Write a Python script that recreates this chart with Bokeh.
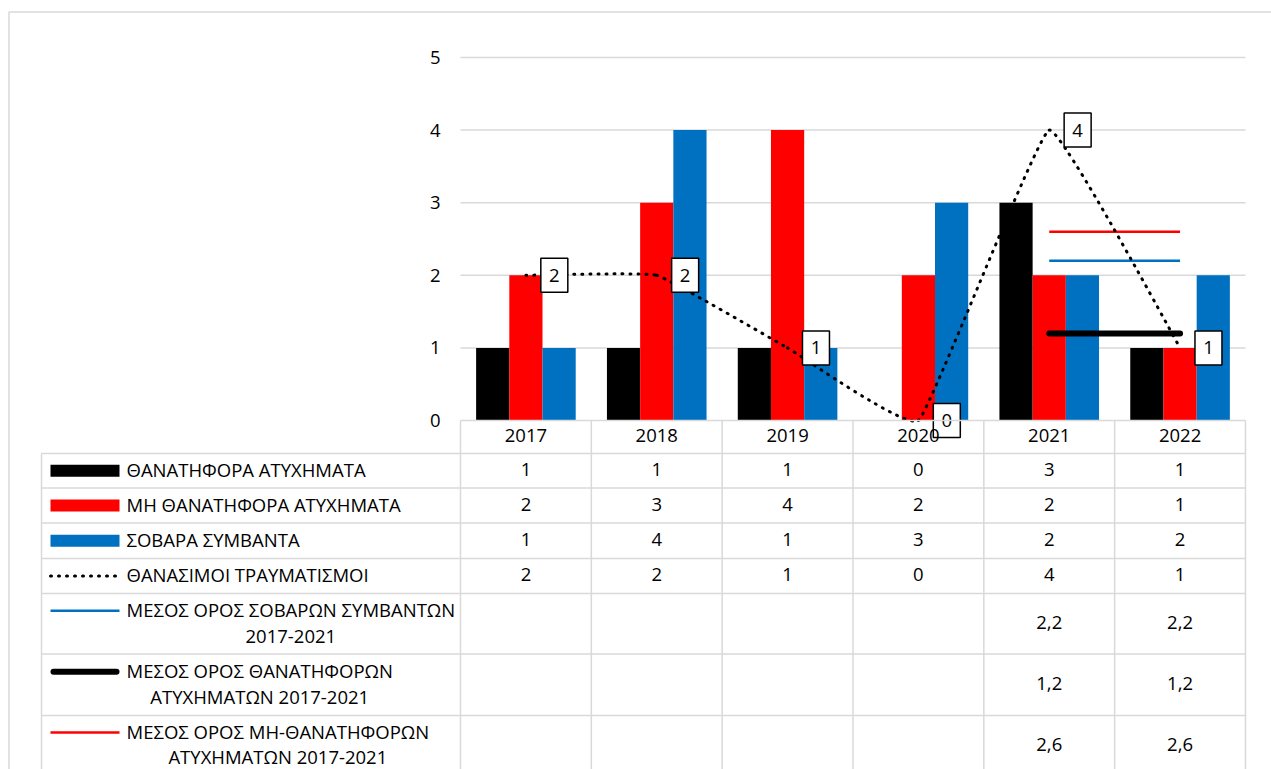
from bokeh.plotting import figure
from bokeh.models import Range1d, LinearAxis, FixedTicker
from bokeh.core.properties import value
from bokeh.embed import file_html
from bokeh.resources import INLINE

# ---- data -----------------------------------------------------------------
years = ["2017", "2018", "2019", "2020", "2021", "2022"]
fatal_accidents = [1, 1, 1, 0, 3, 1]
nonfatal_accidents = [2, 3, 4, 2, 2, 1]
serious_incidents = [1, 4, 1, 3, 2, 2]
fatal_injuries = [2, 2, 1, 0, 4, 1]
avg_serious = [None, None, None, None, 2.2, 2.2]
avg_fatal = [None, None, None, None, 1.2, 1.2]
avg_nonfatal = [None, None, None, None, 2.6, 2.6]
y_ticks = [0, 1, 2, 3, 4, 5]

series_names = [
    "ΘΑΝΑΤΗΦΟΡΑ ΑΤΥΧΗΜΑΤΑ",
    "ΜΗ ΘΑΝΑΤΗΦΟΡΑ ΑΤΥΧΗΜΑΤΑ",
    "ΣΟΒΑΡΑ ΣΥΜΒΑΝΤΑ",
    "ΘΑΝΑΣΙΜΟΙ ΤΡΑΥΜΑΤΙΣΜΟΙ",
    "ΜΕΣΟΣ ΟΡΟΣ ΣΟΒΑΡΩΝ ΣΥΜΒΑΝΤΩΝ\n2017-2021",
    "ΜΕΣΟΣ ΟΡΟΣ ΘΑΝΑΤΗΦΟΡΩΝ\nΑΤΥΧΗΜΑΤΩΝ 2017-2021",
    "ΜΕΣΟΣ ΟΡΟΣ ΜΗ-ΘΑΝΑΤΗΦΟΡΩΝ\nΑΤΥΧΗΜΑΤΩΝ 2017-2021",
]

BLACK, RED, BLUE = "#000000", "#ff0000", "#0070c0"
GRID = "#d9d9d9"
FONT = value("Open Sans")
FSIZE = "18.5px"
SMOOTH = 0.045  # handle length of the smoothed line, relative to neighbour spacing

# ---- page geometry (pixels) -------------------------------------------------
W, H = 1271, 769
PLOT_L = 460.0        # left edge of the first category
COL_W = 130.83        # width of one category column
ZERO_Y = 420.0        # pixel row of value 0
UNIT_H = 72.6         # pixels per unit of value


def dx(px):
    return (px - PLOT_L) / COL_W


def dy(py):
    return (ZERO_Y - py) / UNIT_H


n = len(years)
centers = [i + 0.5 for i in range(n)]

p = figure(
    width=W, height=H,
    x_range=Range1d(dx(0), dx(W)), y_range=Range1d(dy(H), dy(0)),
    x_axis_location=None, y_axis_location=None,
    toolbar_location=None, output_backend="svg",
    min_border=0, outline_line_color=None,
    background_fill_color="white", border_fill_color="white",
)
p.grid.visible = False

# outer frame of the chart area
p.line([dx(8.5), dx(8.5), dx(W + 5)], [dy(H + 5), dy(11.5), dy(11.5)],
       line_color=GRID, line_width=1.5)

# horizontal gridlines
for t in y_ticks[1:]:
    p.line([0, n], [t, t], line_color=GRID, line_width=1.5)

# ---- bars ---------------------------------------------------------------
BAR_W = 33.2 / COL_W
for vals, col, off in [(fatal_accidents, BLACK, -1),
                       (nonfatal_accidents, RED, 0),
                       (serious_incidents, BLUE, 1)]:
    p.vbar(x=[c + off * BAR_W for c in centers], top=vals, bottom=0,
           width=BAR_W, fill_color=col, line_color=None)

# ---- averages (drawn where defined) ----------------------------------------
def defined(series):
    xs = [c for c, v in zip(centers, series) if v is not None]
    ys = [v for v in series if v is not None]
    return xs, ys

xs, ys = defined(avg_nonfatal)
p.line(xs, ys, line_color=RED, line_width=2.5)
xs, ys = defined(avg_serious)
p.line(xs, ys, line_color=BLUE, line_width=2.5)
xs, ys = defined(avg_fatal)
p.line(xs, ys, line_color=BLACK, line_width=6, line_cap="round")

# ---- smoothed dotted line for fatal injuries -------------------------------
pts = list(zip(centers, fatal_injuries))
x0s, y0s, x1s, y1s, cx0, cy0, cx1, cy1 = ([] for _ in range(8))
for i in range(n - 1):
    pa = pts[max(i - 1, 0)]
    pb, pc = pts[i], pts[i + 1]
    pd = pts[min(i + 2, n - 1)]
    x0s.append(pb[0]); y0s.append(pb[1])
    x1s.append(pc[0]); y1s.append(pc[1])
    cx0.append(pb[0] + (pc[0] - pa[0]) * SMOOTH)
    cy0.append(pb[1] + (pc[1] - pa[1]) * SMOOTH)
    cx1.append(pc[0] - (pd[0] - pb[0]) * SMOOTH)
    cy1.append(pc[1] - (pd[1] - pb[1]) * SMOOTH)
p.bezier(x0=x0s, y0=y0s, x1=x1s, y1=y1s, cx0=cx0, cy0=cy0, cx1=cx1, cy1=cy1,
         line_color=BLACK, line_width=3, line_dash="1 7", line_cap="round")

# value boxes beside each point
LBL_DX = 28.4 / COL_W
p.rect(x=[c + LBL_DX for c in centers], y=fatal_injuries, width=27, height=34,
       width_units="screen", height_units="screen",
       fill_color="white", line_color=BLACK, line_width=1.5)
p.text(x=[c + LBL_DX for c in centers], y=fatal_injuries,
       text=[str(v) for v in fatal_injuries],
       text_align="center", text_baseline="middle",
       text_font=FONT, text_font_size=FSIZE, text_color=BLACK)

# ---- axes ---------------------------------------------------------------
yaxis = LinearAxis(fixed_location=0, ticker=FixedTicker(ticks=y_ticks),
                   axis_line_color=None, major_tick_line_color=None,
                   minor_tick_line_color=None, major_tick_out=0, major_tick_in=0,
                   major_label_standoff=20, major_label_text_font="Open Sans",
                   major_label_text_font_size=FSIZE, major_label_text_color=BLACK)
p.add_layout(yaxis, "left")

xaxis = LinearAxis(fixed_location=0, ticker=FixedTicker(ticks=centers),
                   major_label_overrides={c: y for c, y in zip(centers, years)},
                   axis_line_color=None, major_tick_line_color=None,
                   minor_tick_line_color=None, major_tick_out=0, major_tick_in=0,
                   major_label_standoff=8, major_label_text_font="Open Sans",
                   major_label_text_font_size=FSIZE, major_label_text_color=BLACK)
p.add_layout(xaxis, "below")

# ---- data table -----------------------------------------------------------
TABLE_L = 41.0
row_edges = [453.0, 487.5, 522.5, 558.0, 593.0, 653.5, 715.0, H + 10]
row_mid = [(a + b) / 2 for a, b in zip(row_edges[:-1], row_edges[1:])]
row_mid[-1] = 745.0

# axis line / header top
p.line([0, n], [0, 0], line_color=GRID, line_width=1.5)
for e in row_edges[:-1]:
    p.line([dx(TABLE_L), n], [dy(e), dy(e)], line_color=GRID, line_width=1.5)
for k in range(n + 1):
    p.line([k, k], [0, dy(H + 10)], line_color=GRID, line_width=1.5)
p.line([dx(TABLE_L), dx(TABLE_L)], [dy(row_edges[0]), dy(H + 10)],
       line_color=GRID, line_width=1.5)

# legend keys
KEY_L, KEY_R, TEXT_L = 50.0, 119.0, 126.0
LINE_GAP = 26.0
key_y = [m if "\n" not in s else m - LINE_GAP / 2 for m, s in zip(row_mid, series_names)]
kx = [dx(KEY_L), dx(KEY_R)]
p.line(kx, [dy(key_y[0])] * 2, line_color=BLACK, line_width=12)
p.line(kx, [dy(key_y[1])] * 2, line_color=RED, line_width=12)
p.line(kx, [dy(key_y[2])] * 2, line_color=BLUE, line_width=12)
p.line(kx, [dy(key_y[3])] * 2, line_color=BLACK, line_width=3,
       line_dash="1 7", line_cap="round")
p.line(kx, [dy(key_y[4])] * 2, line_color=BLUE, line_width=2.5)
p.line([dx(KEY_L + 3), dx(KEY_R - 3)], [dy(key_y[5])] * 2, line_color=BLACK,
       line_width=6, line_cap="round")
p.line(kx, [dy(key_y[6])] * 2, line_color=RED, line_width=2.5)

p.text(x=[dx(TEXT_L)] * len(series_names), y=[dy(m - 1.5) for m in row_mid],
       text=series_names, anchor="center_left", text_align="center",
       text_baseline="middle", text_line_height=1.03,
       text_font=FONT, text_font_size=FSIZE, text_color=BLACK)


def fmt(v):
    if v is None:
        return ""
    return str(v) if isinstance(v, int) else f"{v:.1f}".replace(".", ",")


table_rows = [fatal_accidents, nonfatal_accidents, serious_incidents,
              fatal_injuries, avg_serious, avg_fatal, avg_nonfatal]
tx, ty, tt = [], [], []
for r, series in enumerate(table_rows):
    for c, v in zip(centers, series):
        if v is None:
            continue
        tx.append(c); ty.append(dy(row_mid[r] - 1.5)); tt.append(fmt(v))
p.text(x=tx, y=ty, text=tt, text_align="center", text_baseline="middle",
       text_font=FONT, text_font_size=FSIZE, text_color=BLACK)

open("out.html", "w").write(file_html(p, INLINE))
